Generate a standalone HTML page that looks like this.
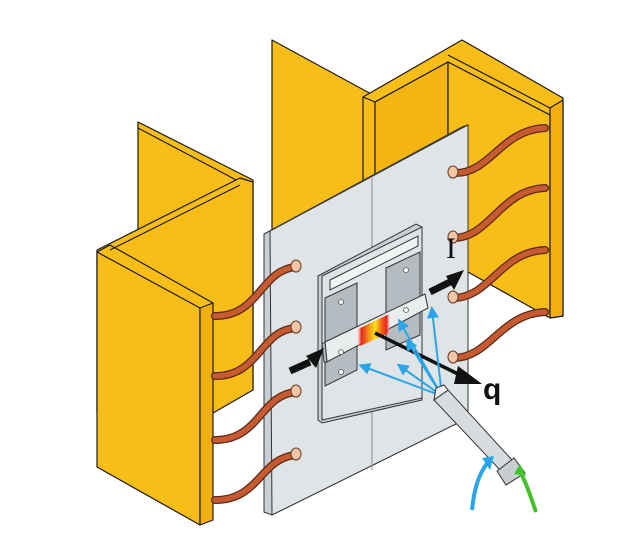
<!DOCTYPE html>
<html><head><meta charset="utf-8"><style>
html,body{margin:0;padding:0;background:#fff;}
svg{display:block;}
</style></head><body>
<svg width="635" height="543" viewBox="0 0 635 543" xmlns="http://www.w3.org/2000/svg">
<defs>
<linearGradient id="hot" x1="0" y1="0" x2="1" y2="0">
<stop offset="0" stop-color="#fff" stop-opacity="0"/>
<stop offset="0.15" stop-color="#e8261c"/>
<stop offset="0.35" stop-color="#f38a1b"/>
<stop offset="0.55" stop-color="#f7e31a"/>
<stop offset="0.75" stop-color="#ef5a1c"/>
<stop offset="0.88" stop-color="#e8261c"/>
<stop offset="1" stop-color="#fff" stop-opacity="0"/>
</linearGradient>
<marker id="ab" markerWidth="6" markerHeight="6" refX="4" refY="3" orient="auto" markerUnits="strokeWidth"><path d="M0,0 L6,3 L0,6 z" fill="#2aa6e8"/></marker>
</defs>
<g stroke="#1a1a1a" stroke-width="1.2" stroke-linejoin="round" fill="#f8bd16">
<!-- middle tall panel -->
<polygon points="272,40 373,95 373,330 272,300"/>
<!-- right channel -->
<polygon points="363,97 462,40 563,98 563,316 550,318 550,115 448,62 375,102 375,330 363,330"/>
<polygon points="375,102 448,62 448,280 375,330" fill="#f4b511"/>
<polygon points="448,62 550,115 550,318 468,272 448,262"/>
<polygon points="550,108 563,100 563,316 550,318" fill="#f2b010"/>
<line x1="363" y1="97" x2="375" y2="102"/>
<line x1="448" y1="55" x2="550" y2="108"/>
<!-- left channel -->
<polygon points="138,122 253,180 253,390 138,330"/>
<line x1="138" y1="128" x2="240" y2="182"/>
<polygon points="97,250 240,178 253,182 253,390 213,413 97,413"/>
<polygon points="97,252 200,308 200,525 97,467"/>
<polygon points="200,308 213,303 213,520 200,525" fill="#f2b010"/>
<line x1="110" y1="250" x2="240" y2="185"/>
<line x1="97" y1="252" x2="110" y2="245"/>
<line x1="110" y1="245" x2="213" y2="303"/>
</g>
<!-- main plate -->
<g stroke="#333" stroke-width="1" fill="#dfe4e7">
<polygon points="264,234 462,127 468,125 468,418 272,515 264,512" fill="#c9d0d4"/>
<polygon points="270,231 468,125 468,418 272,515"/>
<polyline points="372,178 372,470" fill="none" stroke="#888"/>
<!-- inner plate -->
<polygon points="318,276 416,224 422,227 422,400 322,423 318,420" fill="#c9d0d4"/>
<polygon points="322,276 422,227 422,398 322,420" fill="#dfe4e7"/>
<polygon points="330,280 418,236 418,246 330,290" fill="#f0f3f4"/>
<!-- clamps -->
<polygon points="325,298 357,283 357,370 325,386" fill="#b4bcc1"/>
<polygon points="386,268 420,252 420,335 386,350" fill="#b4bcc1"/>
<!-- bar -->
<polygon points="325,342 425,294 428,308 327,362" fill="#e9edee"/>
<polygon points="325,342 327,362 324,362 322,344" fill="#b4bcc1"/>
</g>
<polygon points="356,330 389,314 391,332 358,347" fill="url(#hot)"/>
<g fill="#fff" stroke="#555" stroke-width="0.8">
<circle cx="341" cy="302" r="2.5"/><circle cx="341" cy="352" r="2.5"/><circle cx="341" cy="372" r="2.5"/>
<circle cx="406" cy="270" r="2.5"/><circle cx="406" cy="310" r="2.5"/>
</g>
<!-- cables -->
<g fill="none" stroke-linecap="round">
<g stroke="#5a2a16" stroke-width="8">
<path d="M296,267 C260,270 260,316 215,316"/>
<path d="M296,328 C260,330 260,376 215,376"/>
<path d="M296,392 C260,395 260,440 215,440"/>
<path d="M296,455 C260,458 260,500 215,500"/>
<path d="M453,173 C490,175 500,130 545,128"/>
<path d="M453,238 C490,238 500,190 545,188"/>
<path d="M453,298 C490,298 500,252 545,250"/>
<path d="M453,358 C490,358 500,314 545,312"/>
</g>
<g stroke="#c65a30" stroke-width="5.5">
<path d="M296,267 C260,270 260,316 215,316"/>
<path d="M296,328 C260,330 260,376 215,376"/>
<path d="M296,392 C260,395 260,440 215,440"/>
<path d="M296,455 C260,458 260,500 215,500"/>
<path d="M453,173 C490,175 500,130 545,128"/>
<path d="M453,238 C490,238 500,190 545,188"/>
<path d="M453,298 C490,298 500,252 545,250"/>
<path d="M453,358 C490,358 500,314 545,312"/>
</g>
</g>
<g fill="#f2c7a8" stroke="#6b3a20" stroke-width="1">
<ellipse cx="296" cy="266" rx="5" ry="6"/><ellipse cx="296" cy="327" rx="5" ry="6"/>
<ellipse cx="296" cy="391" rx="5" ry="6"/><ellipse cx="296" cy="454" rx="5" ry="6"/>
<ellipse cx="453" cy="172" rx="5" ry="6"/><ellipse cx="453" cy="237" rx="5" ry="6"/>
<ellipse cx="453" cy="297" rx="5" ry="6"/><ellipse cx="453" cy="357" rx="5" ry="6"/>
</g>
<!-- black arrows -->
<g fill="#111" stroke="#111">
<line x1="290" y1="371" x2="310" y2="362" stroke-width="7"/>
<polygon points="306,356 324,348 316,368" stroke="none"/>
<line x1="430" y1="292" x2="450" y2="282" stroke-width="7"/>
<polygon points="446,276 464,270 454,290" stroke="none"/>
<line x1="375" y1="333" x2="462" y2="376" stroke-width="3.5"/>
<polygon points="458,366 482,384 454,384" stroke="none"/>
</g>
<!-- blue rays -->
<g stroke="#2aa6e8" stroke-width="2" fill="none" marker-end="url(#ab)">
<line x1="442" y1="396" x2="362" y2="366"/>
<line x1="442" y1="396" x2="400" y2="366"/>
<line x1="442" y1="396" x2="400" y2="322"/>
<line x1="442" y1="396" x2="432" y2="310"/>
<line x1="442" y1="396" x2="408" y2="342"/>
</g>
<!-- pyrometer -->
<g stroke="#333" stroke-width="1">
<polygon points="434,400 448,390 512,460 500,470" fill="#d8dcde"/>
<polygon points="434,400 448,390 444,385 436,388" fill="#eee"/>
<polygon points="497,471 514,458 525,473 506,485" fill="#c8cdd0"/>
</g>
<path d="M472,510 C474,490 478,475 488,462" stroke="#2aa6e8" stroke-width="4" fill="none"/>
<polygon points="482,458 494,456 490,470" fill="#2aa6e8"/>
<path d="M536,512 C530,495 526,482 520,472" stroke="#44c42a" stroke-width="4" fill="none"/>
<polygon points="514,474 520,464 526,476" fill="#44c42a"/>
<text x="483" y="399" font-family="Liberation Sans, sans-serif" font-weight="bold" font-size="30" fill="#111">q</text>
<text x="446" y="258" font-family="Liberation Serif, serif" font-size="30" fill="#111">I</text>
</svg>
</body></html>
